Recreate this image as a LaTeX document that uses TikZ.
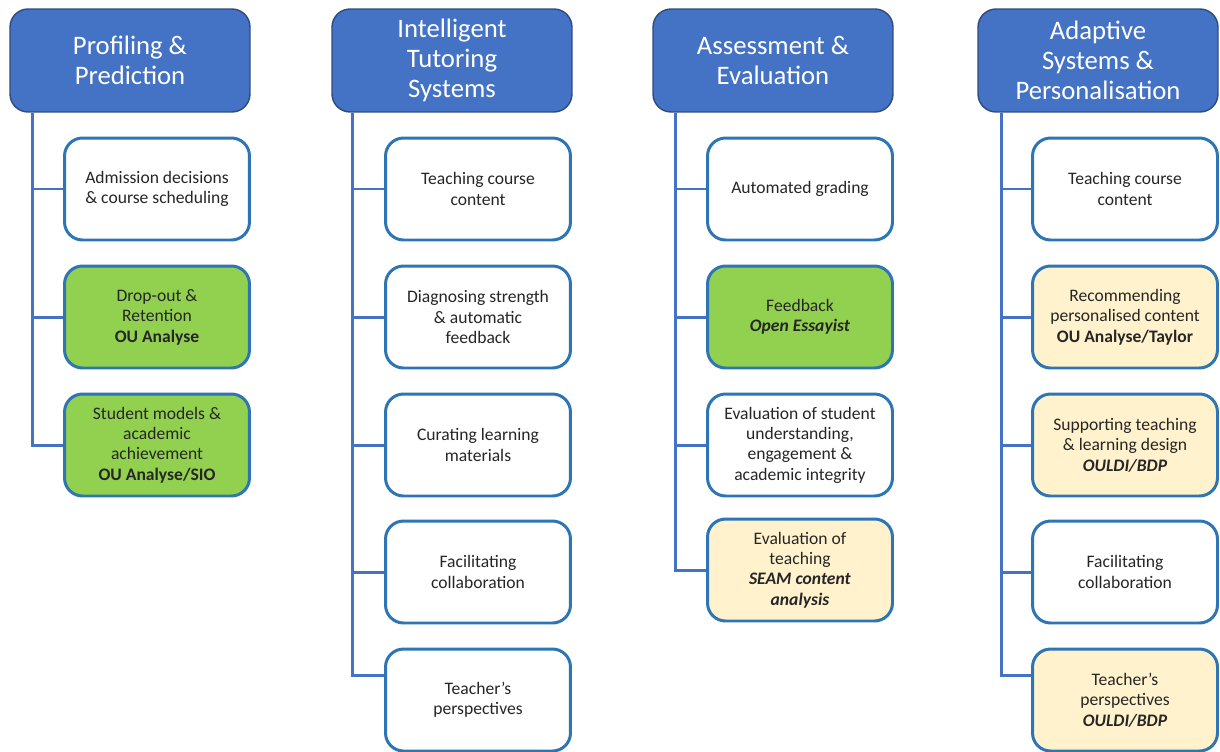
\documentclass[tikz,border=0pt]{standalone}
\usepackage{fontspec}
\setmainfont{Carlito}
\usepackage{tikz}
\usetikzlibrary{calc}
\definecolor{headblue}{HTML}{4472C4}
\definecolor{headedge}{HTML}{2F4B7E}
\definecolor{leafedge}{HTML}{2E75B6}
\definecolor{leafgreen}{HTML}{92D050}
\definecolor{leafyellow}{HTML}{FFF2CC}
\definecolor{leaftext}{HTML}{262626}

\begin{document}
\begin{tikzpicture}[x=0.02cm, y=-0.02cm,
  head/.style={draw=headedge, line width=0.8pt, fill=headblue, rounded corners=0.36cm,
    minimum width=4.8cm, minimum height=2.06cm, align=center, text=white,
    font=\fontsize{15.2}{16.9}\selectfont, inner sep=0pt},
  leaf/.style={draw=leafedge, line width=1.7pt, fill=white, rounded corners=0.36cm,
    minimum width=3.7cm, minimum height=2.04cm, align=center, text=leaftext,
    font=\fontsize{10}{11.6}\selectfont, inner sep=0pt},
  green/.style={leaf, fill=leafgreen},
  yellow/.style={leaf, fill=leafyellow},
  trunk/.style={draw=headblue, line width=1.7pt}]
\useasboundingbox (0,0) rectangle (1220,751);
%見出し%
\node[head] (h1) at (130,60.5) {Profiling \&\\Prediction};
\node[head] (h2) at (452,60.5) {Intelligent\\Tutoring\\Systems};
\node[head] (h3) at (773,60.5) {Assessment \&\\Evaluation};
\node[head] (h4) at (1098,60.5) {Adaptive\\Systems \&\\Personalisation};
%一列目%
\node[leaf] (a1) at (157,189) {Admission decisions\\\& course scheduling};
\node[green] (a2) at (157,317) {Drop-out \&\\Retention\\\textbf{OU Analyse}};
\node[green] (a3) at (157,445) {Student models \&\\academic\\achievement\\\textbf{OU Analyse/SIO}};
%二列目%
\node[leaf] (b1) at (478,189) {Teaching course\\content};
\node[leaf] (b2) at (478,317) {Diagnosing strength\\\& automatic\\feedback};
\node[leaf] (b3) at (478,445) {Curating learning\\materials};
\node[leaf] (b4) at (478,572) {Facilitating\\collaboration};
\node[leaf] (b5) at (478,700) {Teacher’s\\perspectives};
%三列目%
\node[leaf] (c1) at (800,189) {Automated grading};
\node[green] (c2) at (800,317) {Feedback\\\textbf{\textit{Open Essayist}}};
\node[leaf] (c3) at (800,445) {Evaluation of student\\understanding,\\engagement \&\\academic integrity};
\node[yellow] (c4) at (800,570) {Evaluation of\\teaching\\\textbf{\textit{SEAM content}}\\\textbf{\textit{analysis}}};
%四列目%
\node[leaf] (d1) at (1125,189) {Teaching course\\content};
\node[yellow] (d2) at (1125,317) {Recommending\\personalised content\\\textbf{OU Analyse/Taylor}};
\node[yellow] (d3) at (1125,445) {Supporting teaching\\\& learning design\\\textbf{\textit{OULDI/BDP}}};
\node[leaf] (d4) at (1125,572) {Facilitating\\collaboration};
\node[yellow] (d5) at (1125,700) {Teacher’s\\perspectives\\\textbf{\textit{OULDI/BDP}}};
%接続線%
\draw[trunk] (h1.south west) ++(23,0) |- (a1.west);
\draw[trunk] (h1.south west) ++(23,0) |- (a2.west);
\draw[trunk] (h1.south west) ++(23,0) |- (a3.west);
\draw[trunk] (h2.south west) ++(21,0) |- (b1.west);
\draw[trunk] (h2.south west) ++(21,0) |- (b2.west);
\draw[trunk] (h2.south west) ++(21,0) |- (b3.west);
\draw[trunk] (h2.south west) ++(21,0) |- (b4.west);
\draw[trunk] (h2.south west) ++(21,0) |- ($(b5.north west)!0.27!(b5.south west)$);
\draw[trunk] (h3.south west) ++(23,0) |- (c1.west);
\draw[trunk] (h3.south west) ++(23,0) |- (c2.west);
\draw[trunk] (h3.south west) ++(23,0) |- (c3.west);
\draw[trunk] (h3.south west) ++(23,0) |- (c4.west);
\draw[trunk] (h4.south west) ++(24,0) |- (d1.west);
\draw[trunk] (h4.south west) ++(24,0) |- (d2.west);
\draw[trunk] (h4.south west) ++(24,0) |- (d3.west);
\draw[trunk] (h4.south west) ++(24,0) |- (d4.west);
\draw[trunk] (h4.south west) ++(24,0) |- ($(d5.north west)!0.27!(d5.south west)$);
\end{tikzpicture}
\end{document}
